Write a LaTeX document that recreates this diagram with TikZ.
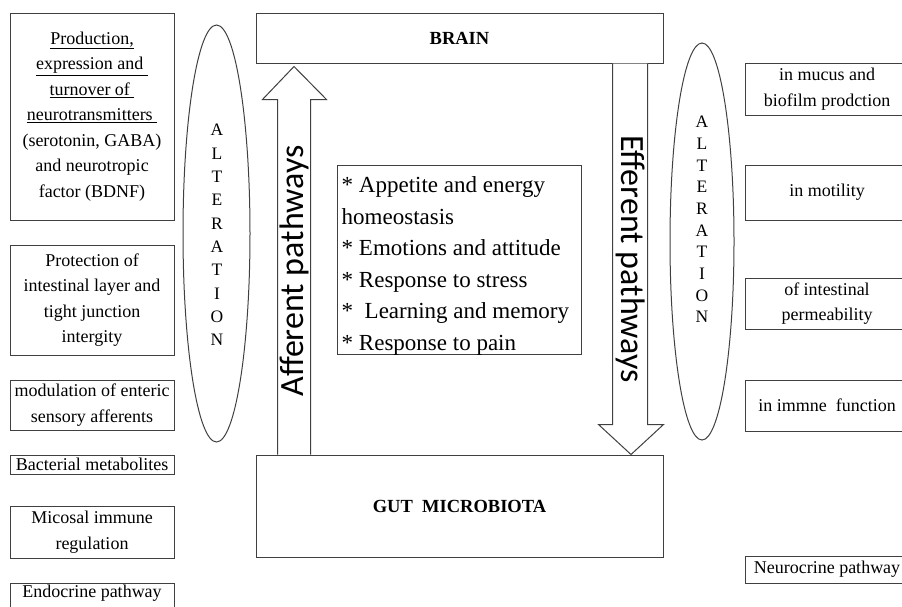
\documentclass[tikz,border=0pt]{standalone}
\usepackage{fontspec}
\setmainfont{Liberation Serif}
\newfontfamily\pathfont{Carlito}
\usetikzlibrary{positioning, calc, shapes.geometric}

\begin{document}
\begin{tikzpicture}[
    x=1pt, y=-1pt,
    every node/.style={font=\fontsize{18}{25.5}\selectfont},
    sidebox/.style={draw=black!75, line width=1pt, minimum width=164, inner sep=1.5pt, outer sep=0pt, align=center},
    mainbox/.style={draw=black!75, line width=1pt, minimum width=407, font=\fontsize{18.5}{22}\selectfont\bfseries},
    altell/.style={draw=black!75, line width=1pt, ellipse, inner sep=0pt},
    altletters/.style={align=center, inner sep=0pt},
    pathlabel/.style={font=\pathfont\fontsize{34}{40}\selectfont, inner sep=0pt},
    bigarrow/.style={draw=black!75, line width=1pt, fill=white}
]

\useasboundingbox (0,0) rectangle (902,606);
\clip (0,0) rectangle (902,606);

% brain and gut
\node[mainbox, minimum height=50] (brain) at (459.5,38) {BRAIN};
\node[mainbox, minimum height=102] (gut) at (459.5,506) {GUT\ \ MICROBIOTA};

% central list
\node[draw=black!75, line width=1pt, minimum width=244, minimum height=189] (lst) at (459,259.5) {};
\node[anchor=north west, align=left, inner sep=0pt, font=\fontsize{23}{31.5}\selectfont] (lsttxt)
    at ($(lst.north west)+(5,12)$)
    {* Appetite and energy\\homeostasis\\* Emotions and attitude\\* Response to stress\\* \ Learning and memory\\* Response to pain};

% afferent pathway (gut -> brain)
\draw[bigarrow] ($(gut.north west)+(22,0)$) -- ($(brain.south west)+(22,36)$) -- ++(-15,0)
    -- ($(brain.south west)+(38.5,3)$) -- ($(brain.south west)+(71,36)$) -- ++(-16,0)
    -- ($(gut.north west)+(55,0)$);
\node[pathlabel, rotate=90, anchor=base] (aff) at (303,271) {Afferent pathways};

% efferent pathway (brain -> gut)
\draw[bigarrow] ($(brain.south east)+(-51,0)$) -- ($(gut.north east)+(-51,-30)$) -- ++(-14,0)
    -- ($(gut.north east)+(-32.5,0)$) -- ($(gut.north east)+(0,-30)$) -- ++(-16,0)
    -- ($(brain.south east)+(-16,0)$);
\node[pathlabel, rotate=-90, anchor=base] (eff) at (621,259) {Efferent pathways};

% alteration ellipses
\node[altell, minimum width=67, minimum height=417] (elll) at (216.5,233.5) {};
\node[altletters, font=\fontsize{17.5}{23.3}\selectfont] (altl) at (217,235) {A\\L\\T\\E\\R\\A\\T\\I\\O\\N};
\node[altell, minimum width=64, minimum height=397] (ellr) at (702,241.5) {};
\node[altletters, font=\fontsize{17.5}{21.7}\selectfont] (altr) at (702,219.5) {A\\L\\T\\E\\R\\A\\T\\I\\O\\N};

% left column
\node[sidebox, minimum height=207] (l1) at (92,116.5)
    {\underline{Production,}\\\underline{expression and\ }\\\underline{turnover of\ }\\\underline{neurotransmitters\ }\\(serotonin, GABA)\\and neurotropic\\factor (BDNF)};
\node[sidebox, minimum height=110, below=25pt of l1] (l2) {Protection of\\intestinal layer and\\tight junction\\intergity};
\node[sidebox, minimum height=50, below=25pt of l2] (l3) {modulation of enteric\\sensory afferents};
\node[sidebox, minimum height=19, below=25pt of l3] (l4) {Bacterial metabolites};
\node[sidebox, minimum height=52, below=32pt of l4] (l5) {Micosal immune\\regulation};
\node[sidebox, text depth=15pt, inner ysep=1.7pt, below=25pt of l5] (l6) {Endocrine pathway};

% right column
\node[sidebox, minimum height=52] (r1) at (827,89) {in mucus and\\biofilm prodction};
\node[sidebox, minimum height=55, below=50pt of r1] (r2) {in motility};
\node[sidebox, minimum height=51, below=58pt of r2] (r3) {of intestinal\\permeability};
\node[sidebox, minimum height=51, below=51pt of r3] (r4) {in immne\ \ function};
\node[sidebox, minimum height=27, below=125pt of r4] (r5) {Neurocrine pathway};

\end{tikzpicture}
\end{document}
